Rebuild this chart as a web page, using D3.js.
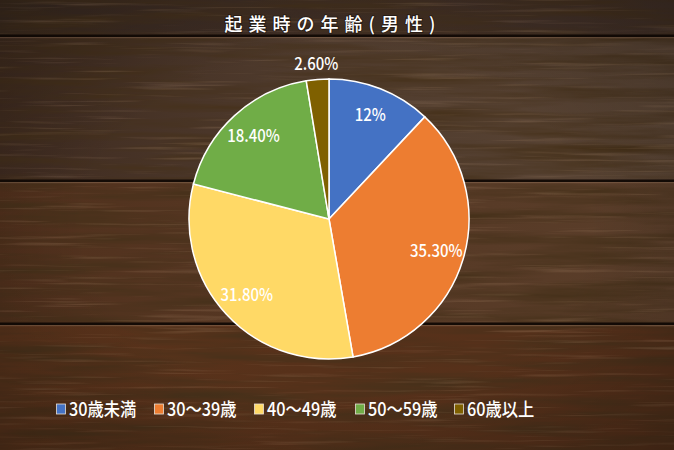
<!DOCTYPE html>
<html>
<head>
<meta charset="utf-8">
<title>起業時の年齢(男性)</title>
<script src="https://cdn.jsdelivr.net/npm/d3@7"></script>
<style>
    html, body { margin: 0; padding: 0; background: #3a2419; }
    svg { display: block; }
    text { font-family: "Noto Sans CJK JP", "Noto Sans", sans-serif; fill: #fff; }
</style>
</head>
<body>
<script>
// chart data
const categories = ["30歳未満", "30～39歳", "40～49歳", "50～59歳", "60歳以上"];
const shares = [12, 35.3, 31.8, 18.4, 2.6];
const shareLabels = ["12%", "35.30%", "31.80%", "18.40%", "2.60%"];
const colors = ["#4472C4", "#ED7D31", "#FFD966", "#70AD47", "#7F6000"];
const title = "起業時の年齢(男性)";

const w = 674, h = 450;
const cx = 329, cy = 219, r = 140;

const svg = d3.select("body").append("svg")
    .attr("width", w)
    .attr("height", h);

// --- wood background ---
const defs = svg.append("defs");

const grain = defs.append("filter")
    .attr("id", "grain")
    .attr("x", 0).attr("y", 0).attr("width", 1).attr("height", 1);
grain.append("feTurbulence")
    .attr("type", "fractalNoise")
    .attr("baseFrequency", "0.006 0.09")
    .attr("numOctaves", 4)
    .attr("seed", 7);
grain.append("feColorMatrix")
    .attr("values", "0 0 0 0 0.06  0 0 0 0 0.03  0 0 0 0 0.01  1.9 0 0 0 -0.7");

const grainLight = defs.append("filter")
    .attr("id", "grainLight")
    .attr("x", 0).attr("y", 0).attr("width", 1).attr("height", 1);
grainLight.append("feTurbulence")
    .attr("type", "fractalNoise")
    .attr("baseFrequency", "0.008 0.3")
    .attr("numOctaves", 3)
    .attr("seed", 3);
grainLight.append("feColorMatrix")
    .attr("values", "0 0 0 0 0.7  0 0 0 0 0.45  0 0 0 0 0.28  1.4 0 0 0 -0.8");

// planks: top edge, bottom edge, left colour, right colour
const planks = [
    [0, 36, "#3a2a21", "#433128"],
    [36, 181, "#3f2b20", "#5a4535"],
    [181, 324, "#51301c", "#5a3e2a"],
    [324, 450, "#5a331b", "#55301a"]
];

planks.forEach(([y0, y1, c0, c1], i) => {
    const g = defs.append("linearGradient")
        .attr("id", "plank" + i)
        .attr("x1", 0).attr("x2", 1).attr("y1", 0).attr("y2", 0);
    g.append("stop").attr("offset", 0).attr("stop-color", c0);
    g.append("stop").attr("offset", 0.45).attr("stop-color", d3.interpolateRgb(c0, c1)(0.6));
    g.append("stop").attr("offset", 1).attr("stop-color", c1);

    svg.append("rect")
        .attr("x", 0).attr("y", y0)
        .attr("width", w).attr("height", y1 - y0)
        .attr("fill", `url(#plank${i})`);
});

svg.append("rect")
    .attr("width", w).attr("height", h)
    .attr("filter", "url(#grain)");
svg.append("rect")
    .attr("width", w).attr("height", h)
    .attr("filter", "url(#grainLight)")
    .attr("opacity", 0.4);

// seams between planks
planks.slice(1).forEach(([y0]) => {
    svg.append("rect")
        .attr("x", 0).attr("y", y0 - 1.5)
        .attr("width", w).attr("height", 2.5)
        .attr("fill", "#140b06");
    svg.append("rect")
        .attr("x", 0).attr("y", y0 + 1)
        .attr("width", w).attr("height", 1.2)
        .attr("fill", "#8a6a52")
        .attr("opacity", 0.55);
});

// soft vignette
const vig = defs.append("radialGradient")
    .attr("id", "vig")
    .attr("cx", 0.5).attr("cy", 0.5).attr("r", 0.75);
vig.append("stop").attr("offset", 0.5).attr("stop-color", "#000").attr("stop-opacity", 0);
vig.append("stop").attr("offset", 1).attr("stop-color", "#000").attr("stop-opacity", 0.3);
svg.append("rect")
    .attr("width", w).attr("height", h)
    .attr("fill", "url(#vig)");

// --- title ---
svg.append("text")
    .attr("x", cx + 4)
    .attr("y", 31)
    .attr("text-anchor", "middle")
    .style("font-size", "18px")
    .style("font-weight", 500)
    .style("letter-spacing", "6px")
    .style("paint-order", "stroke")
    .style("stroke", "rgba(0,0,0,0.35)")
    .style("stroke-width", "2px")
    .text(title);

// --- pie ---
const pie = d3.pie()
    .sort(null)
    .value(d => d);

const arcs = pie(shares);

const arc = d3.arc()
    .innerRadius(0)
    .outerRadius(r);

const labelArc = d3.arc()
    .innerRadius(r * 0.8)
    .outerRadius(r * 0.8);

const outerArc = d3.arc()
    .innerRadius(r * 1.11)
    .outerRadius(r * 1.11);

const pieG = svg.append("g")
    .attr("transform", `translate(${cx},${cy})`);

pieG.selectAll("path")
    .data(arcs)
    .enter()
    .append("path")
    .attr("d", arc)
    .attr("fill", (d, i) => colors[i])
    .attr("stroke", "#fff")
    .attr("stroke-width", 1.5);

pieG.selectAll("text")
    .data(arcs)
    .enter()
    .append("text")
    .attr("transform", d => {
        const small = d.data < 5;
        const [x, y] = (small ? outerArc : labelArc).centroid(d);
        return `translate(${x},${y}) scale(0.88,1)`;
    })
    .attr("text-anchor", "middle")
    .attr("dy", "0.36em")
    .style("font-size", "17px")
    .style("font-weight", 500)
    .text((d, i) => shareLabels[i]);

// --- legend ---
const legendX = [56, 154, 254, 355, 454];
const legend = svg.append("g")
    .attr("transform", "translate(0,409)");

const items = legend.selectAll("g")
    .data(categories)
    .enter()
    .append("g")
    .attr("transform", (d, i) => `translate(${legendX[i]},0)`);

items.append("rect")
    .attr("x", 0.5)
    .attr("y", -5)
    .attr("width", 9)
    .attr("height", 10)
    .attr("fill", (d, i) => colors[i])
    .attr("stroke", "#e8e0d8")
    .attr("stroke-width", 0.8);

items.append("text")
    .attr("transform", "translate(13,0) scale(0.88,1)")
    .attr("dy", "0.36em")
    .style("font-size", "18.5px")
    .style("font-weight", 500)
    .text(d => d);
</script>
</body>
</html>
